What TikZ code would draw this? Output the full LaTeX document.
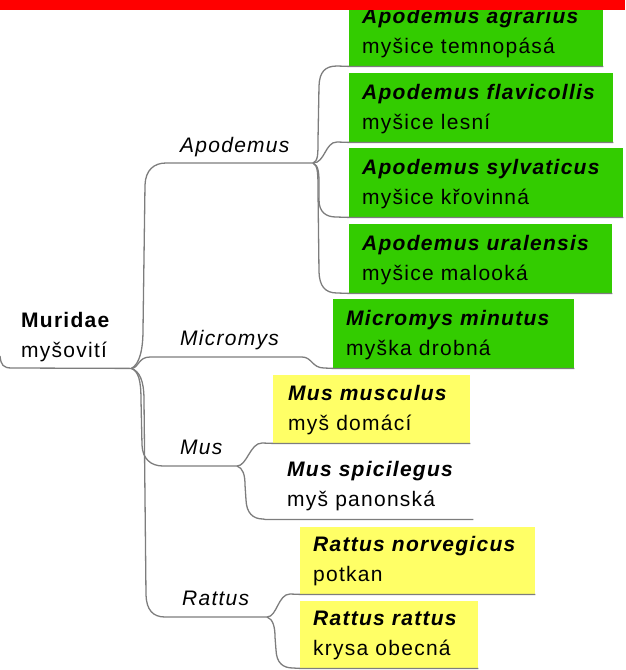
\documentclass[tikz,border=0pt]{standalone}
\usepackage{fontspec}
\setmainfont{Liberation Sans}[LetterSpace=6]
\definecolor{boxgreen}{RGB}{51,204,0}
\definecolor{boxyellow}{RGB}{255,255,102}
\definecolor{linegray}{RGB}{125,125,125}
\definecolor{barred}{RGB}{255,0,0}
\newcommand\taxon[2]{\begin{tabular}[t]{@{}l@{}}\textbf{\textit{#1}}\\#2\end{tabular}}
\tikzset{
  conn/.style={draw=linegray, line width=1.3pt},
  txt/.style={inner sep=0pt, anchor=base west, font=\fontsize{21}{30}\selectfont},
  genus/.style={txt, font=\fontsize{21}{30}\selectfont\itshape},
  sbox/.style={inner sep=0pt, anchor=north west, draw=none},
}
\begin{document}
\begin{tikzpicture}[x=1pt,y=-1pt]
\useasboundingbox (0,0) rectangle (625,670);
% boxes
\node[sbox, fill=boxgreen, minimum width=254pt, minimum height=66pt] (agrbox) at (349,0) {};
\node[sbox, fill=boxgreen, minimum width=264pt, minimum height=69pt] (flabox) at (349,73) {};
\node[sbox, fill=boxgreen, minimum width=274pt, minimum height=69pt] (sylbox) at (349,148) {};
\node[sbox, fill=boxgreen, minimum width=263pt, minimum height=69pt] (urabox) at (349,224) {};
\node[sbox, fill=boxgreen, minimum width=241pt, minimum height=69pt] (micbox) at (333,299) {};
\node[sbox, fill=boxyellow, minimum width=197pt, minimum height=68pt] (musbox) at (273,375) {};
\node[sbox, minimum width=208pt, minimum height=68pt] (spibox) at (265,451) {};
\node[sbox, fill=boxyellow, minimum width=235pt, minimum height=67pt] (norbox) at (300,527) {};
\node[sbox, fill=boxyellow, minimum width=178pt, minimum height=67pt] (ratbox) at (300,601) {};
\node[sbox, minimum width=131pt, minimum height=68pt] (rootbox) at (0,300) {};
% junctions
\coordinate (rootin) at (0,356);
\coordinate (J0) at (rootbox.south east);
\coordinate (apoJ) at (313,163);
\coordinate (micJ) at (302,357);
\coordinate (musJ) at (237,466);
\coordinate (ratJ) at (267,617);
% root underline
\draw[conn] (rootin) .. controls (1,365) and (3,368) .. (12,368) -- (J0);
% genus branches
\draw[conn] (J0) .. controls +(8,-4) and +(0,20) .. (143,330) -- (145,185)
  .. controls +(0.5,-15) and +(-12,0) .. (166,163) -- (apoJ);
\draw[conn] (J0) .. controls (139,368) and (138,357) .. (150,357) -- (micJ)
  .. controls (312,357) and (312,368) .. (324,368) -- (micbox.south west) -- (micbox.south east);
\draw[conn] (J0) .. controls +(7,3) and +(0,-20) .. (141,400) -- (142,445)
  .. controls +(0.5,14) and +(-12,0) .. (163,466) -- (musJ);
\draw[conn] (J0) .. controls +(8,3) and +(0,-20) .. (144,400) -- (146,595)
  .. controls +(0.5,15) and +(-12,0) .. (165,617) -- (ratJ);
% Apodemus species
\draw[conn] (apoJ) .. controls +(5,-2) and +(0,15) .. (318,140) -- (319,86)
  .. controls +(0.5,-14) and +(-12,0) .. (337,66) -- (agrbox.south west) -- (agrbox.south east);
\draw[conn] (apoJ) .. controls +(12,0) and +(-12,0) .. (337,142) -- (flabox.south west) -- (flabox.south east);
\draw[conn] (apoJ) .. controls +(6,2) and +(0,-10) .. (319,185) -- (319,200)
  .. controls +(0,12) and +(-10,0) .. (336,217) -- (sylbox.south west) -- (sylbox.south east);
\draw[conn] (apoJ) .. controls +(5,2) and +(0,-15) .. (318,190) -- (319,272)
  .. controls +(0.5,14) and +(-12,0) .. (337,293) -- (urabox.south west) -- (urabox.south east);
% Mus species
\draw[conn] (musJ) .. controls +(10,0) and +(-12,0) .. (262,443) -- (musbox.south west) -- (musbox.south east);
\draw[conn] (musJ) .. controls +(6,2) and +(0,-10) .. (245,485) -- (246,500)
  .. controls +(0.5,13) and +(-10,0) .. (263,519) -- (spibox.south west) -- (spibox.south east);
% Rattus species
\draw[conn] (ratJ) .. controls +(10,0) and +(-12,0) .. (290,594) -- (norbox.south west) -- (norbox.south east);
\draw[conn] (ratJ) .. controls +(6,2) and +(0,-10) .. (275,637) -- (276,650)
  .. controls +(0.5,13) and +(-10,0) .. (293,668) -- (ratbox.south west) -- (ratbox.south east);
% texts
\node[txt] (root) at (21,327) {\begin{tabular}[t]{@{}l@{}}\textbf{Muridae}\\myšovití\end{tabular}};
\node[genus] (apo) at (180,152) {Apodemus};
\node[genus] (mic) at (180,345) {Micromys};
\node[genus] (mus) at (180,454) {Mus};
\node[genus] (rat) at (182,605) {Rattus};
\node[txt] (agr) at (362,23) {\taxon{Apodemus agrarius}{myšice temnopásá}};
\node[txt] (fla) at (362,99) {\taxon{Apodemus flavicollis}{myšice lesní}};
\node[txt] (syl) at (362,174) {\taxon{Apodemus sylvaticus}{myšice křovinná}};
\node[txt] (ura) at (362,250) {\taxon{Apodemus uralensis}{myšice malooká}};
\node[txt] (micm) at (346,325) {\taxon{Micromys minutus}{myška drobná}};
\node[txt] (musm) at (288,400) {\taxon{Mus musculus}{myš domácí}};
\node[txt] (muss) at (287,476) {\taxon{Mus spicilegus}{myš panonská}};
\node[txt] (ratn) at (313,551) {\taxon{Rattus norvegicus}{potkan}};
\node[txt] (ratr) at (313,625) {\taxon{Rattus rattus}{krysa obecná}};
% top bar
\fill[barred] (0,0) rectangle (625,10);
\end{tikzpicture}
\end{document}
